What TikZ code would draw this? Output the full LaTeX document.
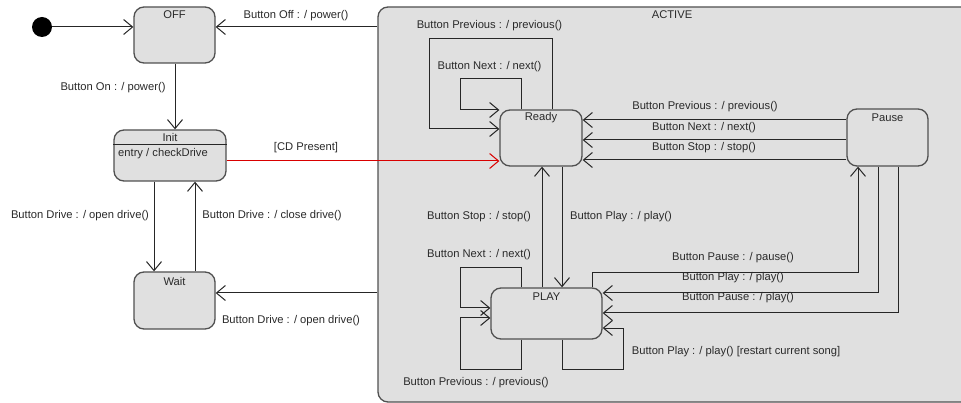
\documentclass[tikz,border=0pt]{standalone}
\usepackage{fontspec}
\setmainfont{Liberation Sans}
\usetikzlibrary{arrows.meta}
\definecolor{boxfill}{HTML}{E0E0E0}
\definecolor{boxline}{HTML}{505050}
\definecolor{txt}{HTML}{2A2A2A}
\begin{document}
\begin{tikzpicture}[x=1pt,y=-1pt,
  state/.style={draw=boxline, fill=boxfill, line width=1.3pt, rounded corners=10pt, inner sep=0pt},
  lbl/.style={text=txt, font=\fontsize{11.2}{13}\selectfont, inner sep=0pt},
  arr/.style={draw=black!85, line width=1pt, -{Straight Barb[length=9pt,width=15pt,line width=1pt]}},
  redarr/.style={arr, draw=red!85!black, -{Straight Barb[length=9pt,width=15pt,line width=1pt,color=red!85!black]}}]
\useasboundingbox (0,0) rectangle (961,403);
\clip (0,0) rectangle (961,403);
\fill[white] (0,0) rectangle (961,403);
% ACTIVE composite state
\node[state, minimum width=600pt, minimum height=395pt] (active) at (678,204.5) {};
\node[lbl] (activet) at (672,15) {ACTIVE};
% states
\node[state, minimum width=81pt, minimum height=56pt] (off) at (174.5,35) {};
\node[lbl] (offt) at (174.5,15) {OFF};
\node[state, minimum width=112pt, minimum height=51pt] (initst) at (170,155.5) {};
\node[lbl] (initt) at (170,137) {Init};
\draw[black!85, line width=1pt] (initst.west |- 0,145) -- (initst.east |- 0,145);
\node[lbl, anchor=west] (entry) at (118,154) {entry / checkDrive};
\node[state, minimum width=81pt, minimum height=57pt] (wait) at (174.5,300.5) {};
\node[lbl] (waitt) at (174.5,281) {Wait};
\node[state, minimum width=82pt, minimum height=56pt] (ready) at (541,138) {};
\node[lbl] (readyt) at (541,118) {Ready};
\node[state, minimum width=81pt, minimum height=57pt] (pause) at (887.5,137.5) {};
\node[lbl] (pauset) at (887.5,118) {Pause};
\node[state, minimum width=111pt, minimum height=51pt] (play) at (546.5,313.5) {};
\node[lbl] (playt) at (546.5,297) {PLAY};
% initial
\node[circle, fill=black, minimum size=20pt, inner sep=0pt] (start) at (42,27) {};
\draw[arr] (start) -- (off.west |- 0,27);
% top-level transitions
\draw[arr] (active.west |- 0,27) -- (off.east |- 0,27);
\node[lbl] (l1) at (296,16) {Button Off : / power()};
\draw[arr] (off.south -| 175,0) -- (initst.north -| 175,0);
\node[lbl] (l2) at (113,88) {Button On : / power()};
\draw[redarr] (initst.east |- 0,161) -- (ready.west |- 0,161);
\node[lbl] (l3) at (306,148) {[CD Present]};
\draw[arr] (initst.south -| 154,0) -- (wait.north -| 154,0);
\node[lbl] (l4) at (80,216) {Button Drive : / open drive()};
\draw[arr] (wait.north -| 195,0) -- (initst.south -| 195,0);
\node[lbl] (l5) at (272,216) {Button Drive : / close drive()};
\draw[arr] (active.west |- 0,293) -- (wait.east |- 0,293);
\node[lbl] (l6) at (291,321) {Button Drive : / open drive()};
% Ready loops
\draw[arr] (ready.north -| 521,0) -- (521,79) -- (460,79) -- (460,110) -- (ready.west |- 0,110);
\node[lbl] (l7) at (489.5,67) {Button Next : / next()};
\draw[arr] (ready.north -| 552,0) -- (552,39) -- (429,39) -- (429,129) -- (ready.west |- 0,129);
\node[lbl] (l8) at (489.5,26) {Button Previous : / previous()};
% Pause -> Ready
\draw[arr] (pause.west |- 0,120) -- (ready.east |- 0,120);
\node[lbl] (l9) at (705,107) {Button Previous : / previous()};
\draw[arr] (pause.west |- 0,140) -- (ready.east |- 0,140);
\node[lbl] (l10) at (704,128) {Button Next : / next()};
\draw[arr] (pause.west |- 0,160) -- (ready.east |- 0,160);
\node[lbl] (l11) at (704,148) {Button Stop : / stop()};
% Ready <-> PLAY
\draw[arr] (ready.south -| 562,0) -- (play.north -| 562,0);
\node[lbl] (l12) at (621,217) {Button Play : / play()};
\draw[arr] (play.north -| 542,0) -- (ready.south -| 542,0);
\node[lbl] (l13) at (479,217) {Button Stop : / stop()};
% PLAY loops
\draw[arr] (play.north -| 521,0) -- (521,268) -- (460,268) -- (460,308) -- (play.west |- 0,308);
\node[lbl] (l14) at (479,255) {Button Next : / next()};
\draw[arr] (play.south -| 521,0) -- (521,369) -- (460,369) -- (460,318) -- (play.west |- 0,318);
\node[lbl] (l15) at (476,383) {Button Previous : / previous()};
\draw[arr] (play.south -| 562,0) -- (562,369) -- (623,369) -- (623,328) -- (play.east |- 0,328);
\node[lbl] (l16) at (736,352) {Button Play : / play() [restart current song]};
% PLAY <-> Pause
\draw[arr] (play.north -| 592,0) -- (592,273) -- (858,273) -- (pause.south -| 858,0);
\node[lbl] (l17) at (733,258) {Button Pause : / pause()};
\draw[arr] (pause.south -| 878,0) -- (878,293) -- (play.east |- 0,293);
\node[lbl] (l18) at (733,278) {Button Play : / play()};
\draw[arr] (pause.south -| 898,0) -- (898,313) -- (play.east |- 0,313);
\node[lbl] (l19) at (738,298) {Button Pause : / play()};
\end{tikzpicture}
\end{document}
